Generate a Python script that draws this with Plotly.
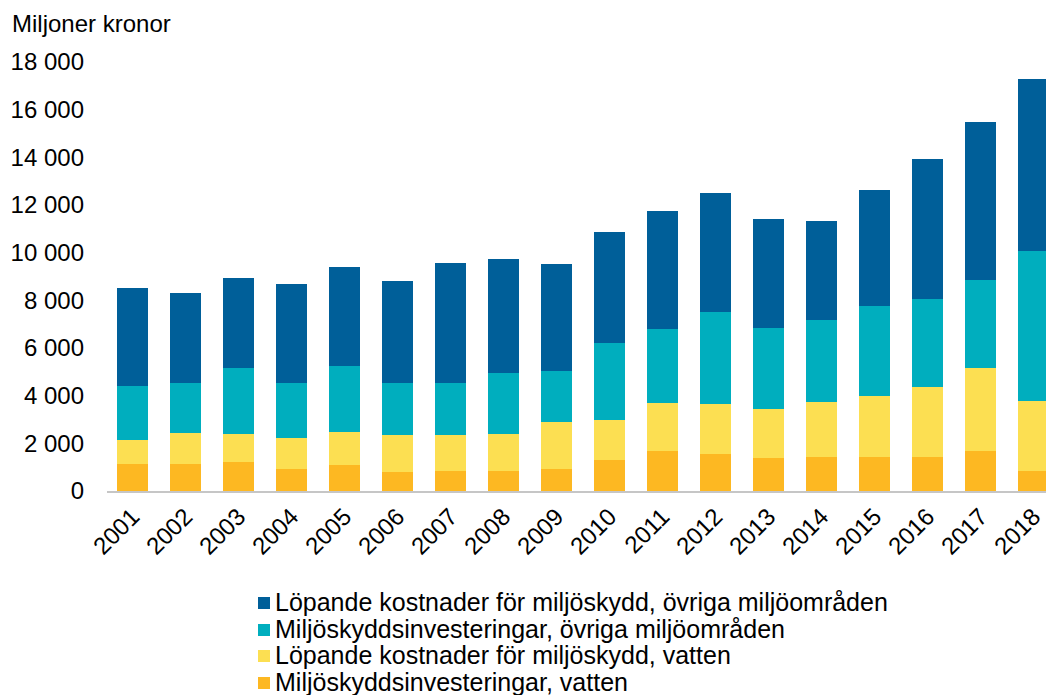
import plotly.graph_objects as go

# Years on the category axis
years = [str(y) for y in range(2001, 2019)]

# Miljöskyddsinvesteringar, vatten (MSEK)
inv_vatten = [1130, 1130, 1230, 920, 1090, 780, 840, 840, 940, 1290,
              1690, 1540, 1400, 1440, 1440, 1440, 1680, 840]
# Löpande kostnader för miljöskydd, vatten (MSEK)
lop_vatten = [1000, 1300, 1160, 1320, 1400, 1560, 1500, 1550, 1960, 1700,
              2000, 2100, 2040, 2310, 2560, 2910, 3470, 2950]
# Miljöskyddsinvesteringar, övriga miljöområden (MSEK)
inv_ovriga = [2260, 2100, 2760, 2300, 2760, 2200, 2200, 2560, 2150, 3210,
              3120, 3870, 3410, 3410, 3760, 3720, 3720, 6280]
# Löpande kostnader för miljöskydd, övriga miljöområden (MSEK)
lop_ovriga = [4120, 3790, 3780, 4130, 4140, 4270, 5040, 4770, 4480, 4680,
              4940, 4980, 4550, 4170, 4880, 5850, 6600, 7220]

y_ticks = list(range(0, 18001, 2000))

# Stacking order, bottom to top
series = [
    ("Miljöskyddsinvesteringar, vatten", inv_vatten, "#FDB822"),
    ("Löpande kostnader för miljöskydd, vatten", lop_vatten, "#FCDF52"),
    ("Miljöskyddsinvesteringar, övriga miljöområden", inv_ovriga, "#00AEBE"),
    ("Löpande kostnader för miljöskydd, övriga miljöområden", lop_ovriga, "#005F99"),
]

W, H = 1046, 695
ML, MR, MT, MB = 107, 0, 62, 204
PW, PH = W - ML - MR, H - MT - MB

FONT = "Liberation Sans, Arial, sans-serif"

fig = go.Figure()
for name, vals, col in series:
    fig.add_trace(go.Bar(
        x=years, y=vals, name=name,
        marker=dict(color=col, line=dict(width=0)),
        showlegend=False,
    ))


def px_x(p):
    return (p - ML) / PW


def px_y(p):
    return (H - MB - p) / PH


# Legend rows drawn below the plot, top entry = top of stack
shapes, annotations = [], []
row_y = [602, 629, 655, 682]
for (name, _vals, col), ry in zip(reversed(series), row_y):
    shapes.append(dict(
        type="rect", xref="paper", yref="paper",
        x0=px_x(258), x1=px_x(270), y0=px_y(ry + 7), y1=px_y(ry - 5),
        fillcolor=col, line=dict(width=0),
    ))
    annotations.append(dict(
        text=name, xref="paper", yref="paper",
        x=px_x(273), y=px_y(ry), xanchor="left", yanchor="middle",
        showarrow=False, font=dict(family=FONT, size=25, color="#000000"),
    ))

fig.update_layout(
    width=W, height=H,
    margin=dict(l=ML, r=MR, t=MT, b=MB, pad=0),
    barmode="stack", bargap=0.415,
    plot_bgcolor="white", paper_bgcolor="white",
    separators=", ",
    font=dict(family=FONT, size=24, color="#000000"),
    title=dict(
        text="Miljoner kronor", xref="container", yref="container",
        x=12 / W, xanchor="left", y=1 - 24 / H, yanchor="middle",
        font=dict(family=FONT, size=24, color="#000000"),
    ),
    xaxis=dict(
        type="category", range=[-0.481, 17.236],
        tickangle=-45, ticks="", showgrid=False,
        showline=True, linecolor="#C6C6C6", linewidth=2,
        tickfont=dict(family=FONT, size=24, color="#000000"),
    ),
    yaxis=dict(
        range=[0, 18000], tickvals=y_ticks, tickformat=",d",
        showgrid=False, zeroline=False, showline=False, ticks="",
        ticklabelstandoff=22,
        tickfont=dict(family=FONT, size=24, color="#000000"),
    ),
    shapes=shapes, annotations=annotations,
)

fig.write_html("out.html")
